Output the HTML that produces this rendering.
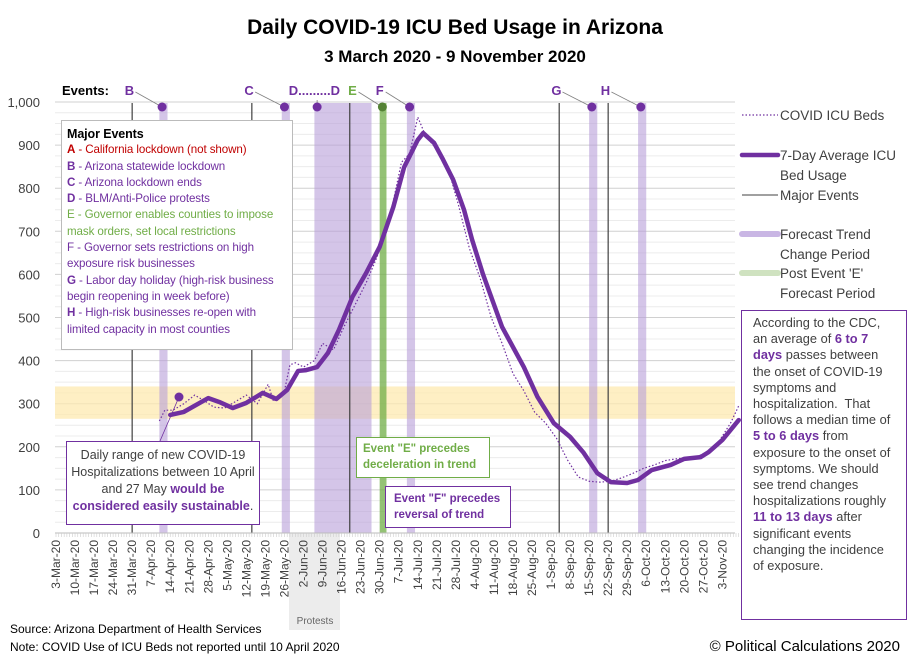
<!DOCTYPE html>
<html><head><meta charset="utf-8"><style>
body{margin:0;width:910px;height:661px;background:#fff;overflow:hidden;font-family:"Liberation Sans",sans-serif}
svg{position:absolute;left:0;top:0}
.box{position:absolute;background:#fff;font-family:"Liberation Sans",sans-serif;box-sizing:border-box}
</style></head><body>
<svg id="chart" width="910" height="661"></svg>

<div class="box" style="left:61px;top:120px;width:232px;height:230px;border:1px solid #bbb;padding:5px 5px;font-size:11.6px;line-height:16.3px;color:#7030a0;letter-spacing:-0.1px">
<div style="font-weight:bold;color:#000;font-size:12.5px">Major Events</div>
<div style="color:#c00000"><b>A</b> - California lockdown (not shown)</div>
<div><b>B</b> - Arizona statewide lockdown</div>
<div><b>C</b> - Arizona lockdown ends</div>
<div><b>D</b> - BLM/Anti-Police protests</div>
<div style="color:#70ad47">E - Governor enables counties to impose mask orders, set local restrictions</div>
<div>F - Governor sets restrictions on high exposure risk businesses</div>
<div><b>G</b> - Labor day holiday (high-risk business begin reopening in week before)</div>
<div><b>H</b> - High-risk businesses re-open with limited capacity in most counties</div>
</div>

<div class="box" style="left:66px;top:441px;width:194px;height:84px;border:1.5px solid #7030a0;padding:5px 4px;font-size:12.5px;line-height:17px;color:#404040;text-align:center">Daily range of new COVID-19 Hospitalizations between 10 April and 27 May <b style="color:#7030a0">would be considered easily sustainable</b>.</div>

<div class="box" style="left:356px;top:437px;width:134px;height:41px;border:1.5px solid #70ad47;padding:3px 6px;font-size:11.5px;line-height:16px;color:#70ad47;font-weight:bold">Event "E" precedes deceleration in trend</div>

<div class="box" style="left:385px;top:486px;width:126px;height:42px;border:1.5px solid #7030a0;padding:4px 8px;font-size:11.5px;line-height:16px;color:#7030a0;font-weight:bold">Event "F" precedes reversal of trend</div>

<div class="box" style="left:741px;top:310px;width:166px;height:310px;border:1.5px solid #7030a0;padding:4px 10px 4px 11px;font-size:12.8px;line-height:16.2px;color:#404040">According to the CDC, an average of <b style="color:#7030a0">6 to 7 days</b> passes between the onset of COVID-19 symptoms and hospitalization.&nbsp; That follows a median time of <b style="color:#7030a0">5 to 6 days</b> from exposure to the onset of symptoms. We should see trend changes hospitalizations roughly <b style="color:#7030a0">11 to 13 days</b> after significant events changing the incidence of exposure.</div>

<script>
const avgDays=[42,47,56,60,65,70,76,81,85,89,92,96,100,104,109,114,119,124,128,133,135,139,142,146,150,153,157,164,172,177,183,189,194,199,204,210,214,219,226,231,237,240,245,251];
const avgVals=[274,281,313,304,290,302,325,311,332,376,378,385,418,471,548,603,664,756,849,912,928,905,870,820,750,680,600,478,385,316,255,223,186,139,118,116,123,146,158,172,176,188,216,262];
const rawDays=[38,40,43,47,51,55,58,62,66,70,74,78,80,84,86,88,91,95,98,102,106,110,114,118,121,124,127,130,133,136,140,144,148,152,156,160,164,168,172,176,180,184,188,192,196,200,204,208,212,216,220,224,228,232,236,240,244,248,251];
const rawVals=[260,285,285,300,320,305,292,290,305,320,300,345,305,330,390,395,385,400,440,425,480,530,580,640,700,770,860,880,965,920,890,850,760,660,590,500,440,370,330,280,255,220,170,130,120,118,120,128,138,150,158,168,172,175,178,190,215,255,295];
const eventLines=[28,72,108,185,203];
const trendBands=[[38,41],[83,86],[95,116],[129,132],[196,199],[214,217]];
const greenBands=[[119,121.5]];
const eventLabels=['B','C','D.........D','E','F','G','H'];
const labelDays=[27,71,95,109,119,184,202];
const dotDays=[39,84,96,120,130,197,215];
const yTicks=[0,100,200,300,400,500,600,700,800,900,1000];
const months=['Jan','Feb','Mar','Apr','May','Jun','Jul','Aug','Sep','Oct','Nov'];

const svg=document.getElementById('chart');const NS='http://www.w3.org/2000/svg';
const X0=56,PX=2.72,Y0=533,PY=0.431;
const x=d=>X0+d*PX, y=v=>Y0-v*PY;
function el(t,a,p){const e=document.createElementNS(NS,t);for(const k in a)e.setAttribute(k,a[k]);(p||svg).appendChild(e);return e;}

let t=el('text',{x:455,y:34,'text-anchor':'middle','font-size':21,'font-weight':'bold',fill:'#000'});t.textContent='Daily COVID-19 ICU Bed Usage in Arizona';


t=el('text',{x:455,y:62,'text-anchor':'middle','font-size':17,'font-weight':'bold',fill:'#000'});t.textContent='3 March 2020 - 9 November 2020';



for(let v=0;v<=1000;v+=25){const g=el('line',{x1:55,x2:735,y1:y(v),y2:y(v),stroke:v%100==0?'#d0d0d0':'#ececec','stroke-width':1});

}
yTicks.forEach(v=>{const l=el('text',{x:40,y:y(v)+5,'text-anchor':'end','font-size':13,fill:'#404040'});l.textContent=v.toLocaleString('en-US');

});

let ob=el('rect',{x:55,y:y(340),width:680,height:(340-265)*PY,fill:'#fde9b0',opacity:0.75});



let pa=el('rect',{x:289,y:533,width:51,height:97,fill:'#ececec'});


t=el('text',{x:315,y:624,'text-anchor':'middle','font-size':10,fill:'#666'});t.textContent='Protests';



trendBands.forEach(b=>{const r=el('rect',{x:x(b[0]),y:103,width:x(b[1])-x(b[0]),height:430,fill:'#b79fd9',opacity:0.6});

});
greenBands.forEach(b=>{const r=el('rect',{x:x(b[0]),y:103,width:x(b[1])-x(b[0]),height:430,fill:'#70ad47',opacity:0.75});

});
eventLines.forEach(d=>{const l=el('line',{x1:x(d),x2:x(d),y1:103,y2:533,stroke:'#404040','stroke-width':1.2});

});

let ax=el('line',{x1:55,x2:735,y1:533,y2:533,stroke:'#bbb'});


for(let d=0;d<=251;d++){const tk=el('line',{x1:x(d),x2:x(d),y1:533,y2:537,stroke:'#ccc','stroke-width':0.6});

}
for(let d=0;d<=245;d+=7){const dt=new Date(2020,2,3+d);const s=dt.getDate()+'-'+months[dt.getMonth()]+'-20';
const l=el('text',{transform:`translate(${x(d)+4},${540}) rotate(-90)`,'text-anchor':'end','font-size':12,fill:'#404040'});l.textContent=s;

}

const rp=rawDays.map((d,i)=>x(d)+','+y(rawVals[i])).join(' ');
let rl=el('polyline',{points:rp,fill:'none',stroke:'#7030a0','stroke-width':1.2,'stroke-dasharray':'1.5,2'});


const ap=avgDays.map((d,i)=>x(d)+','+y(avgVals[i])).join(' ');
let al=el('polyline',{points:ap,fill:'none',stroke:'#7030a0','stroke-width':4.5,'stroke-linejoin':'round','stroke-linecap':'round'});



t=el('text',{x:62,y:95,'font-size':13,'font-weight':'bold',fill:'#000'});t.textContent='Events:';


eventLabels.forEach((s,i)=>{const lx=x(labelDays[i]);
const c=s=='E'?'#70ad47':'#7030a0';
const l=el('text',{x:lx,y:95,'text-anchor':'middle','font-size':13,'font-weight':'bold',fill:c});l.textContent=s;


const dx=x(dotDays[i]);
const ln=el('line',{x1:s.length>1?dx:lx+6,y1:s.length>1?100:92,x2:dx,y2:107,stroke:'#808080','stroke-width':0.8});


const dot=el('circle',{cx:dx,cy:107,r:4.5,fill:s=='E'?'#548235':'#7030a0'});

});
let d2=el('circle',{cx:179,cy:397,r:4.5,fill:'#7030a0'});


let d2l=el('line',{x1:179,y1:397,x2:160,y2:441,stroke:'#7030a0','stroke-width':0.8});



const lg=[[115,'COVID ICU Beds'],[155,'7-Day Average ICU'],[175,'Bed Usage'],[195,'Major Events'],[234,'Forecast Trend'],[254,'Change Period'],[273,"Post Event 'E'"],[293,'Forecast Period']];
lg.forEach(a=>{const l=el('text',{x:780,y:a[0]+5,'font-size':13.5,fill:'#404040'});l.textContent=a[1];

});
const sw=[[115,'#7030a0',1.2,'1.5,2'],[155,'#7030a0',4.5,''],[195,'#404040',1,''],[234,'#c9b6e4',6,''],[273,'#cfe2c0',6,'']];
sw.forEach(s=>{const l=el('line',{x1:742,x2:778,y1:s[0],y2:s[0],stroke:s[1],'stroke-width':s[2],'stroke-dasharray':s[3],'stroke-linecap':s[2]>3?'round':'butt'});

});

const ft=[[10,633,'Source: Arizona Department of Health Services',12,'start'],[10,651,'Note: COVID Use of ICU Beds not reported until 10 April 2020',12,'start'],[900,651,'© Political Calculations 2020',15,'end']];
ft.forEach(f=>{const l=el('text',{x:f[0],y:f[1],'font-size':f[3],'text-anchor':f[4],fill:'#000'});l.textContent=f[2];

});
</script>
</body></html>
